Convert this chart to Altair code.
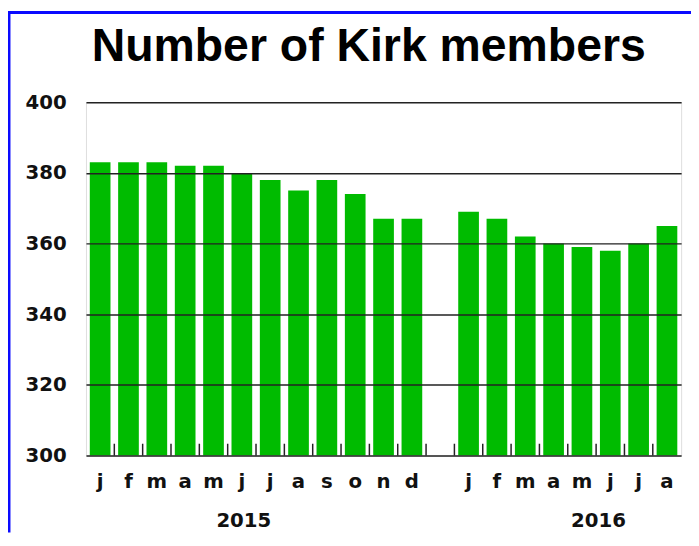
import altair as alt
import pandas as pd

# ---- data ----
months = ["j", "f", "m", "a", "m", "j", "j", "a", "s", "o", "n", "d", "",
          "j", "f", "m", "a", "m", "j", "j", "a"]
members = [383, 383, 383, 382, 382, 380, 378, 375, 378, 374, 367, 367, None,
           369, 367, 362, 360, 359, 358, 360, 365]
years = ["2015", "2016"]
year_slot = [5, 18]
y_ticks = [300, 320, 340, 360, 380, 400]

keys = [f"{i:02d}_{m}" for i, m in enumerate(months)]
df = pd.DataFrame({"key": keys, "members": members})
ticks_df = pd.DataFrame({"key": keys[1:]})

W, H = 603, 358
PAD_L, PAD_T, PAD_R, PAD_B = 79, 92, 10, 78
FONT = "DejaVu Sans"
GREEN = "#00bb00"
INK = "#111111"

band_scale = alt.Scale(domain=keys, paddingInner=0.27, paddingOuter=0.135)
slot_scale = alt.Scale(domain=keys, paddingInner=0, paddingOuter=0)

bars = alt.Chart(df).mark_bar(color=GREEN).encode(
    x=alt.X("key:N", scale=band_scale, sort=keys,
            axis=alt.Axis(title=None, labelExpr="split(datum.value, '_')[1]",
                          labelAngle=0, ticks=False, domain=False, grid=False,
                          labelFont=FONT, labelFontSize=20, labelFontWeight="bold",
                          labelColor=INK, labelPadding=16)),
    y=alt.Y("members:Q", scale=alt.Scale(domain=[300, 400], zero=False, nice=False),
            axis=alt.Axis(values=y_ticks, title=None, ticks=False, domain=False,
                          grid=True, gridColor="#222222", gridWidth=1.5, gridOpacity=1,
                          zindex=1, labelFont=FONT, labelFontSize=20,
                          labelFontWeight="bold", labelColor=INK, labelPadding=20)),
    y2=alt.datum(300),
)

tick_rules = alt.Chart(ticks_df).mark_rule(color="#222222", strokeWidth=1.5).encode(
    x=alt.X("key:N", bandPosition=0, scale=slot_scale, sort=keys, axis=None),
    y=alt.value(H),
    y2=alt.value(H - 12),
)

year_layers = []
for yr, slot, dx in zip(years, year_slot, [2, -12]):
    ydf = pd.DataFrame({"key": [keys[slot]], "year": [yr]})
    year_layers.append(
        alt.Chart(ydf).mark_text(font=FONT, fontSize=20, fontWeight="bold",
                                 color=INK, dx=dx, baseline="middle").encode(
            x=alt.X("key:N", scale=band_scale, sort=keys, axis=None),
            y=alt.value(H + 66),
            text="year:N",
        )
    )

frame_top = alt.Chart(alt.Data(values=[{}])).mark_rule(color="#0a0aff", strokeWidth=3).encode(
    x=alt.value(-PAD_L), x2=alt.value(W + PAD_R), y=alt.value(-PAD_T + 1))
frame_left = alt.Chart(alt.Data(values=[{}])).mark_rule(color="#0a0aff", strokeWidth=3).encode(
    x=alt.value(-PAD_L + 1), y=alt.value(-PAD_T), y2=alt.value(H + PAD_B))

chart = alt.layer(bars, tick_rules, *year_layers, frame_top, frame_left).resolve_scale(
    x="independent"
).properties(
    width=W, height=H,
    padding={"left": PAD_L, "top": PAD_T, "right": PAD_R, "bottom": PAD_B},
    autosize=alt.AutoSizeParams(type="none"),
    title=alt.Title("Number of Kirk members", font="Liberation Sans", fontSize=47,
                    fontWeight="bold", color="#000000", anchor="middle", dx=-15,
                    offset=-62),
).configure_view(stroke="#222222", strokeWidth=1.5).configure(background="white")

chart.save("out.html", embed_options={"renderer": "svg", "actions": False})
